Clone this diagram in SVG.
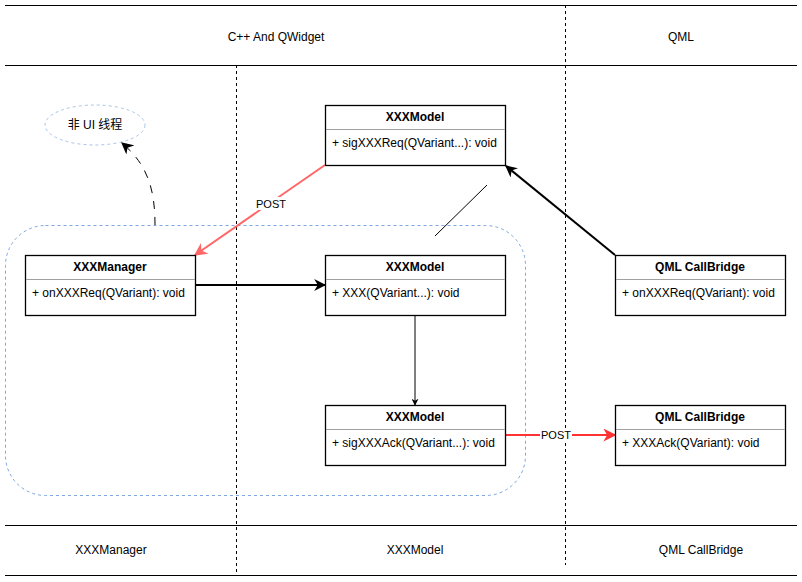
<svg xmlns="http://www.w3.org/2000/svg" width="802" height="582" viewBox="0 0 802 582">
  <defs>
    <style>
      text { font-family: "Liberation Sans", Arial, sans-serif; fill: #000; }
      .lane { font-size: 12px; text-anchor: middle; }
      .title { font-size: 12px; font-weight: bold; text-anchor: middle; }
      .member { font-size: 12px; }
      .box { fill: #fff; stroke: #000; stroke-width: 1.3; }
      .sep { stroke: #a0a0a0; stroke-width: 1; }
      .hline { stroke: #000; stroke-width: 1; }
      .vdash { stroke: #000; stroke-width: 1; stroke-dasharray: 3 3; fill: none; }
      .group { fill: none; stroke: #7ea6e0; stroke-width: 1; stroke-dasharray: 3 3; }
      .label { font-size: 11px; text-anchor: middle; }
    </style>
    <marker id="arrBlack" viewBox="0 0 10 10" refX="9" refY="5" markerWidth="7" markerHeight="7" orient="auto" markerUnits="userSpaceOnUse">
      <path d="M0,0 L10,5 L0,10 L3,5 Z" fill="#000"/>
    </marker>
    <marker id="arrBlackL" viewBox="0 0 10 10" refX="9" refY="5" markerWidth="12" markerHeight="12" orient="auto" markerUnits="userSpaceOnUse">
      <path d="M0,0 L10,5 L0,10 L3,5 Z" fill="#000"/>
    </marker>
    <marker id="arrRedL" viewBox="0 0 10 10" refX="9" refY="5" markerWidth="13" markerHeight="13" orient="auto" markerUnits="userSpaceOnUse">
      <path d="M0,0 L10,5 L0,10 L3,5 Z" fill="#ff6666"/>
    </marker>
    <marker id="arrRed" viewBox="0 0 10 10" refX="9" refY="5" markerWidth="13" markerHeight="13" orient="auto" markerUnits="userSpaceOnUse">
      <path d="M0,0 L10,5 L0,10 L3,5 Z" fill="#ff3333"/>
    </marker>
  </defs>

  <!-- lane frame -->
  <g id="lanes">
    <line class="hline" x1="5" y1="5.5" x2="797" y2="5.5"/>
    <line class="hline" x1="5" y1="65.5" x2="797" y2="65.5"/>
    <line class="hline" x1="5" y1="525.5" x2="797" y2="525.5"/>
    <line class="hline" x1="5" y1="575.5" x2="797" y2="575.5"/>
    <line class="vdash" x1="236.5" y1="65" x2="236.5" y2="575"/>
    <line class="vdash" x1="565.5" y1="5" x2="565.5" y2="565"/>
    <text class="lane" x="276" y="41">C++ And QWidget</text>
    <text class="lane" x="681" y="41">QML</text>
    <text class="lane" x="111" y="554">XXXManager</text>
    <text class="lane" x="415" y="554">XXXModel</text>
    <text class="lane" x="701" y="554">QML CallBridge</text>
  </g>

  <!-- non-UI thread grouping -->
  <g id="worker-group">
    <rect class="group" x="5.5" y="225.5" width="520" height="270" rx="40" ry="40"/>
  </g>
  <g id="worker-thread">
    <ellipse cx="95" cy="125" rx="50" ry="20" fill="#fff" stroke="#a9c4eb" stroke-width="1" stroke-dasharray="3 3"/>
    <text x="95" y="129" font-size="12" text-anchor="middle" style="font-family: 'Liberation Sans', 'Noto Sans CJK SC', sans-serif;">非 UI 线程</text>
  </g>

  <!-- connectors -->
  <g id="connectors" fill="none">
    <path d="M155,225 C155,190 148,165 122,143" stroke="#000" stroke-width="1" stroke-dasharray="8 8" marker-end="url(#arrBlackL)"/>
    <line x1="325" y1="165" x2="195" y2="255" stroke="#ff6666" stroke-width="2" marker-end="url(#arrRedL)"/>
    <line x1="615" y1="255" x2="506" y2="166" stroke="#000" stroke-width="2" marker-end="url(#arrBlackL)"/>
    <line x1="195" y1="285" x2="325" y2="285" stroke="#000" stroke-width="2" marker-end="url(#arrBlackL)"/>
    <line x1="415" y1="315" x2="415" y2="405" stroke="#000" stroke-width="1" marker-end="url(#arrBlack)"/>
    <line x1="505" y1="435" x2="615" y2="435" stroke="#ff3333" stroke-width="2" marker-end="url(#arrRed)"/>
    <line x1="487" y1="185" x2="435" y2="236" stroke="#000" stroke-width="1"/>
    <rect x="255" y="197" width="32" height="13" fill="#fff"/>
    <text class="label" x="271" y="208">POST</text>
    <rect x="540" y="429" width="32" height="13" fill="#fff"/>
    <text class="label" x="556" y="439">POST</text>
  </g>

  <!-- nodes -->
  <g id="model-req">
    <rect class="box" x="325.5" y="105.5" width="180" height="60"/>
    <line class="sep" x1="326" y1="129.5" x2="505" y2="129.5"/>
    <text class="title" x="415" y="121">XXXModel</text>
    <text class="member" x="332" y="147">+ sigXXXReq(QVariant...): void</text>
  </g>
  <g id="manager">
    <rect class="box" x="25.5" y="255.5" width="170" height="60"/>
    <line class="sep" x1="26" y1="279.5" x2="195" y2="279.5"/>
    <text class="title" x="110" y="271">XXXManager</text>
    <text class="member" x="32" y="297">+ onXXXReq(QVariant): void</text>
  </g>
  <g id="model-exec">
    <rect class="box" x="325.5" y="255.5" width="180" height="60"/>
    <line class="sep" x1="326" y1="279.5" x2="505" y2="279.5"/>
    <text class="title" x="415" y="271">XXXModel</text>
    <text class="member" x="332" y="297">+ XXX(QVariant...): void</text>
  </g>
  <g id="model-ack">
    <rect class="box" x="325.5" y="405.5" width="180" height="60"/>
    <line class="sep" x1="326" y1="429.5" x2="505" y2="429.5"/>
    <text class="title" x="415" y="421">XXXModel</text>
    <text class="member" x="332" y="447">+ sigXXXAck(QVariant...): void</text>
  </g>
  <g id="bridge-req">
    <rect class="box" x="615.5" y="255.5" width="170" height="60"/>
    <line class="sep" x1="616" y1="279.5" x2="785" y2="279.5"/>
    <text class="title" x="700" y="271">QML CallBridge</text>
    <text class="member" x="622" y="297">+ onXXXReq(QVariant): void</text>
  </g>
  <g id="bridge-ack">
    <rect class="box" x="615.5" y="405.5" width="170" height="60"/>
    <line class="sep" x1="616" y1="429.5" x2="785" y2="429.5"/>
    <text class="title" x="700" y="421">QML CallBridge</text>
    <text class="member" x="622" y="447">+ XXXAck(QVariant): void</text>
  </g>
</svg>
